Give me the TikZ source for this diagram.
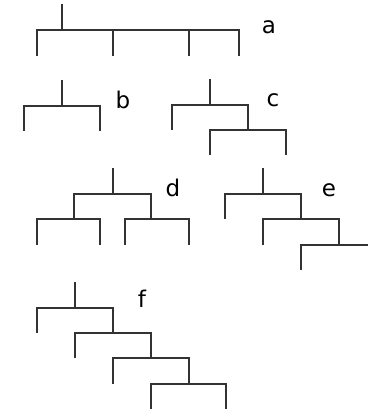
\documentclass[tikz,border=0pt]{standalone}
\usepackage{fontspec}
\setmainfont{DejaVu Sans}
\usepackage{tikz}

\tikzset{
  branch/.style={draw=black!80, line width=0.6pt},
  tag/.style={anchor=base, inner sep=0pt, font=\fontsize{11.5}{14}\selectfont}
}

\begin{document}
\begin{tikzpicture}[x=0.5pt, y=-0.5pt]
  \useasboundingbox (0,0) rectangle (368,412);
  \clip (0,0) rectangle (368,412);

  % tree a: one bar, four leaves
  \coordinate (aTop) at (62,4);
  \coordinate (aJ) at (62,30);
  \foreach \x [count=\i] in {37,113,189,239}
    \coordinate (aL\i) at (\x,56);
  \draw[branch] (aTop) -- (aJ);
  \draw[branch] (aL1) |- (aJ) -| (aL4);
  \foreach \i in {2,3}
    \draw[branch] (aL\i) -- (aL\i |- aJ);
  \node[tag] (aTag) at (269,33) {a};

  % tree b
  \coordinate (bTop) at (62,80);
  \coordinate (bJ) at (62,106);
  \coordinate (bL1) at (24,131);
  \coordinate (bL2) at (100,131);
  \draw[branch] (bTop) -- (bJ);
  \draw[branch] (bL1) |- (bJ) -| (bL2);
  \node[tag] (bTag) at (123,108) {b};

  % tree c
  \coordinate (cTop) at (210,79);
  \coordinate (cJ) at (210,105);
  \coordinate (cL1) at (172,130);
  \coordinate (cJ2) at (248,130);
  \coordinate (cL2) at (210,155);
  \coordinate (cL3) at (286,155);
  \draw[branch] (cTop) -- (cJ);
  \draw[branch] (cL1) |- (cJ) -| (cJ2);
  \draw[branch] (cL2) |- (cJ2) -| (cL3);
  \node[tag] (cTag) at (273,106) {c};

  % tree d: balanced
  \coordinate (dTop) at (113,168);
  \coordinate (dJ) at (113,194);
  \coordinate (dJL) at (74,219);
  \coordinate (dJR) at (151,219);
  \foreach \x [count=\i] in {37,100,125,189}
    \coordinate (dL\i) at (\x,245);
  \draw[branch] (dTop) -- (dJ);
  \draw[branch] (dJL) |- (dJ) -| (dJR);
  \draw[branch] (dL1) |- (dJL) -| (dL2);
  \draw[branch] (dL3) |- (dJR) -| (dL4);
  \node[tag] (dTag) at (173,196) {d};

  % tree e: ladder
  \coordinate (eTop) at (263,168);
  \coordinate (eJ) at (263,194);
  \coordinate (eL1) at (225,219);
  \coordinate (eJ2) at (301,219);
  \coordinate (eL2) at (263,245);
  \coordinate (eJ3) at (339,245);
  \coordinate (eL3) at (301,270);
  \coordinate (eL4) at (377,270);
  \draw[branch] (eTop) -- (eJ);
  \draw[branch] (eL1) |- (eJ) -| (eJ2);
  \draw[branch] (eL2) |- (eJ2) -| (eJ3);
  \draw[branch] (eL3) |- (eJ3) -| (eL4);
  \node[tag] (eTag) at (329,196) {e};

  % tree f: longer ladder
  \coordinate (fTop) at (75,282);
  \coordinate (fJ) at (75,308);
  \coordinate (fL1) at (37,333);
  \coordinate (fJ2) at (113,333);
  \coordinate (fL2) at (75,358);
  \coordinate (fJ3) at (151,358);
  \coordinate (fL3) at (113,384);
  \coordinate (fJ4) at (189,384);
  \coordinate (fL4) at (151,409);
  \coordinate (fL5) at (226,409);
  \draw[branch] (fTop) -- (fJ);
  \draw[branch] (fL1) |- (fJ) -| (fJ2);
  \draw[branch] (fL2) |- (fJ2) -| (fJ3);
  \draw[branch] (fL3) |- (fJ3) -| (fJ4);
  \draw[branch] (fL4) |- (fJ4) -| (fL5);
  \node[tag] (fTag) at (142,307) {f};
\end{tikzpicture}
\end{document}
